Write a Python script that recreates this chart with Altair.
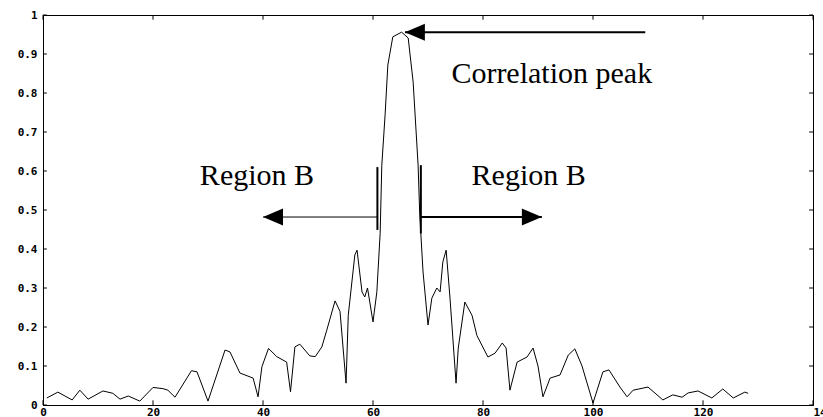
import altair as alt
import pandas as pd

# ---- correlation curve ----
x_vals = [0.7, 2.7, 5.3, 6.7, 8.2, 10.9, 12.7, 14, 15.5, 17.6, 20, 21.8, 22.7, 24, 27, 28, 30,
          33.1, 34, 35.8, 38.2, 39.1, 39.8, 41, 42.5, 44.3, 45, 45.8, 46.7, 48.5, 49.5, 50.7,
          51.6, 53.1, 54, 55.1, 55.5, 56.7, 57.1, 58, 58.5, 59, 60, 60.7, 61.3, 61.6, 62.2,
          62.7, 63.6, 65.2, 66.4, 67.3, 68.2, 68.5, 69.1, 70, 70.7, 71.6, 72.2, 72.7, 73.3,
          74, 75.1, 75.5, 76.7, 78, 78.9, 80.9, 82.2, 83.5, 84.2, 84.9, 86.2, 88, 89.1, 90,
          90.9, 92.2, 94, 95.5, 96.7, 98, 100, 101.8, 102.9, 104.9, 106.2, 107.3, 110, 112.7,
          114.5, 116.2, 117.3, 119.1, 121.6, 123.6, 125.5, 127.6, 128.2]
y_vals = [0.018, 0.033, 0.013, 0.038, 0.015, 0.036, 0.030, 0.015, 0.023, 0.010, 0.045, 0.042,
          0.038, 0.020, 0.088, 0.085, 0.010, 0.141, 0.136, 0.082, 0.069, 0.021, 0.098, 0.145,
          0.124, 0.110, 0.034, 0.149, 0.156, 0.126, 0.124, 0.149, 0.192, 0.267, 0.240, 0.056,
          0.230, 0.385, 0.397, 0.290, 0.277, 0.300, 0.213, 0.290, 0.440, 0.615, 0.744, 0.872,
          0.944, 0.956, 0.941, 0.828, 0.615, 0.487, 0.341, 0.205, 0.274, 0.300, 0.290, 0.367,
          0.397, 0.274, 0.056, 0.146, 0.264, 0.230, 0.178, 0.123, 0.133, 0.159, 0.146, 0.038,
          0.110, 0.123, 0.146, 0.100, 0.021, 0.069, 0.077, 0.128, 0.144, 0.100, 0.005, 0.085,
          0.090, 0.046, 0.021, 0.038, 0.046, 0.013, 0.026, 0.020, 0.031, 0.036, 0.018, 0.041,
          0.018, 0.033, 0.030]

x_ticks = [0, 20, 40, 60, 80, 100, 120, 140]
y_ticks = [0, 0.1, 0.2, 0.3, 0.4, 0.5, 0.6, 0.7, 0.8, 0.9, 1]

# ---- annotations (data coordinates) ----
label_texts = ["Correlation peak", "Region B", "Region B"]
label_x = [92.5, 38.9, 88.3]
label_y = [0.826, 0.564, 0.564]

arrow_x1 = [65.8, 40.0, 68.7]
arrow_x2 = [109.5, 60.8, 90.7]
arrow_y = [0.956, 0.482, 0.482]
arrow_w = [2, 1, 2]

bar_x = [60.8, 68.7]
bar_y1 = [0.449, 0.44]
bar_y2 = [0.61, 0.615]

head_x = [65.8, 40.0, 90.7]
head_y = [0.956, 0.482, 0.482]
head_dir = ["left", "left", "right"]

curve = pd.DataFrame({"x": x_vals, "y": y_vals})
labels = pd.DataFrame({"x": label_x, "y": label_y, "t": label_texts})
arrows = pd.DataFrame({"x": arrow_x1, "x2": arrow_x2, "y": arrow_y, "w": arrow_w})
bars = pd.DataFrame({"x": bar_x, "y": bar_y1, "y2": bar_y2})
heads = pd.DataFrame({"x": head_x, "y": head_y, "d": head_dir})

xs = alt.Scale(domain=[0, 140], nice=False, zero=False)
ys = alt.Scale(domain=[0, 1], nice=False, zero=False)

x_axis = alt.Axis(values=x_ticks, title=None, grid=False, ticks=False, format="d",
                  labelFlush=False, labelBound=False, labelOverlap=False,
                  labelAlign={"condition": {"test": "datum.value == 140", "value": "left"},
                              "value": "center"})
y_axis = alt.Axis(values=y_ticks, title=None, grid=False, ticks=False, labelOverlap=False,
                  labelExpr="datum.value == 0 ? '0' : (datum.value == 1 ? '1' : format(datum.value, '.1f'))")


def X(field):
    return alt.X(field, type="quantitative", scale=xs, axis=x_axis)


def Y(field):
    return alt.Y(field, type="quantitative", scale=ys, axis=y_axis)


line = alt.Chart(curve).mark_line(color="black", strokeWidth=1).encode(x=X("x"), y=Y("y"))

# inward tick marks on all four sides
xt = pd.DataFrame({"v": x_ticks, "a": [0] * len(x_ticks), "b": [0.012] * len(x_ticks),
                   "c": [1] * len(x_ticks), "d": [0.988] * len(x_ticks)})
yt = pd.DataFrame({"v": y_ticks, "a": [0] * len(y_ticks), "b": [0.7] * len(y_ticks),
                   "c": [140] * len(y_ticks), "d": [139.3] * len(y_ticks)})
tick_bottom = alt.Chart(xt).mark_rule(color="black", strokeWidth=1).encode(
    x=X("v"), y=Y("a"), y2="b:Q")
tick_top = alt.Chart(xt).mark_rule(color="black", strokeWidth=1).encode(
    x=X("v"), y=Y("c"), y2="d:Q")
tick_left = alt.Chart(yt).mark_rule(color="black", strokeWidth=1).encode(
    y=Y("v"), x=X("a"), x2="b:Q")
tick_right = alt.Chart(yt).mark_rule(color="black", strokeWidth=1).encode(
    y=Y("v"), x=X("c"), x2="d:Q")

text = alt.Chart(labels).mark_text(font="Liberation Serif", fontSize=30, color="black",
                                   align="center", baseline="alphabetic").encode(
    x=X("x"), y=Y("y"), text="t:N")

arrow_lines = alt.Chart(arrows).mark_rule(color="black").encode(
    x=X("x"), x2="x2:Q", y=Y("y"),
    strokeWidth=alt.StrokeWidth("w:Q", scale=None, legend=None))

bar_lines = alt.Chart(bars).mark_rule(color="black", strokeWidth=2).encode(
    x=X("x"), y=Y("y"), y2="y2:Q")

head_left = alt.Chart(heads).transform_filter("datum.d == 'left'").mark_point(
    shape="M0,0L2,-0.85L2,0.85Z", size=400, filled=True, color="black", opacity=1).encode(
    x=X("x"), y=Y("y"))
head_right = alt.Chart(heads).transform_filter("datum.d == 'right'").mark_point(
    shape="M0,0L-2,-0.85L-2,0.85Z", size=400, filled=True, color="black", opacity=1).encode(
    x=X("x"), y=Y("y"))

chart = alt.layer(
    line, tick_bottom, tick_top, tick_left, tick_right,
    arrow_lines, bar_lines, head_left, head_right, text
).properties(
    width=770, height=390,
    padding={"left": 43, "top": 15, "right": 10, "bottom": 12},
    autosize="none", background="white"
).configure_view(
    stroke="black", strokeWidth=1
).configure_axis(
    labelFont="DejaVu Sans Mono", labelFontSize=11, labelFontWeight="bold",
    labelColor="black", domainColor="black", domainWidth=1
).configure_axisX(
    labelPadding=1
).configure_axisY(
    labelPadding=6
)

chart.save("out.html", embed_options={"renderer": "svg", "actions": False})
